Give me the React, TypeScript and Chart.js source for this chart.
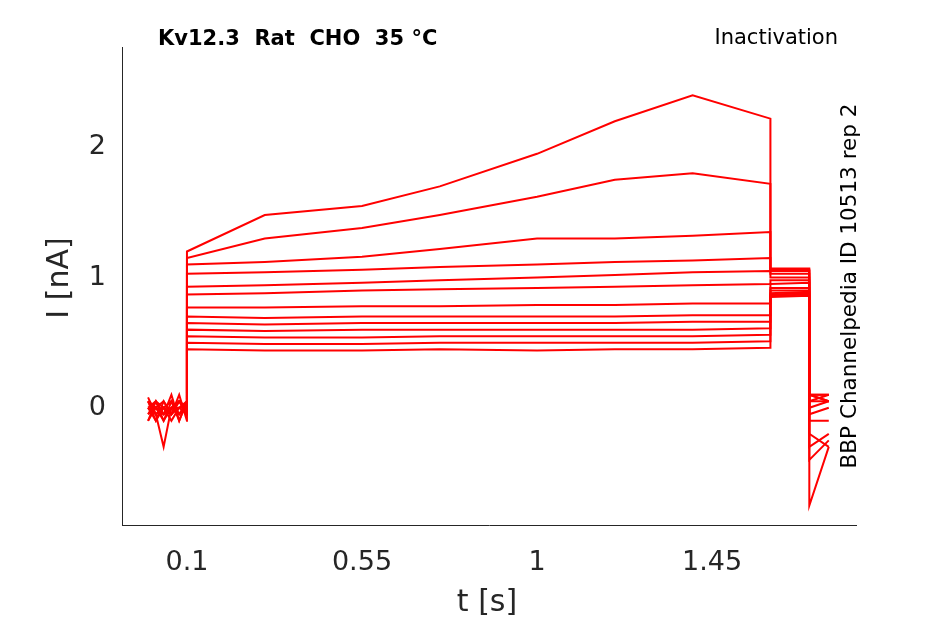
import React, { useEffect, useRef } from "react";
import Chart from "chart.js/auto";

// sample times (s); duplicated edges make the voltage steps vertical
const times = [0, 0.02, 0.04, 0.06, 0.08, 0.0999, 0.1, 0.3, 0.55, 0.75, 1.0, 1.2, 1.4, 1.5999, 1.6, 1.6999, 1.7, 1.75];

// current traces (nA), one per sweep
const sweeps: number[][] = [
  [0.05, -0.1, 0.0, -0.05, 0.05, 0.0, 0.45, 0.44, 0.44, 0.45, 0.44, 0.45, 0.45, 0.46, 0.85, 0.86, -0.75, -0.3],
  [-0.05, 0.0, -0.1, 0.05, -0.05, 0.0, 0.5, 0.49, 0.49, 0.5, 0.5, 0.5, 0.5, 0.51, 0.86, 0.87, -0.4, -0.25],
  [0.0, -0.05, -0.3, 0.0, 0.05, -0.05, 0.55, 0.54, 0.54, 0.55, 0.55, 0.55, 0.55, 0.56, 0.87, 0.88, -0.3, -0.2],
  [0.08, -0.05, 0.0, -0.1, 0.0, 0.05, 0.6, 0.59, 0.6, 0.6, 0.6, 0.6, 0.6, 0.61, 0.88, 0.89, -0.2, -0.3],
  [-0.1, 0.05, -0.05, 0.0, -0.05, 0.0, 0.65, 0.64, 0.65, 0.65, 0.65, 0.65, 0.66, 0.66, 0.9, 0.9, -0.1, -0.1],
  [0.0, -0.1, 0.05, -0.05, 0.1, -0.1, 0.7, 0.69, 0.7, 0.7, 0.7, 0.7, 0.71, 0.71, 0.92, 0.92, -0.05, 0.0],
  [0.05, 0.0, -0.05, 0.1, -0.1, 0.05, 0.77, 0.77, 0.78, 0.78, 0.79, 0.79, 0.8, 0.8, 0.95, 0.96, 0.0, 0.05],
  [-0.05, 0.05, 0.0, -0.05, 0.05, 0.0, 0.87, 0.88, 0.9, 0.91, 0.92, 0.93, 0.94, 0.95, 0.98, 0.98, 0.05, 0.05],
  [0.0, 0.05, -0.1, 0.0, 0.0, -0.05, 0.93, 0.94, 0.96, 0.98, 1.0, 1.02, 1.04, 1.05, 1.0, 1.0, 0.05, 0.1],
  [0.05, -0.05, 0.0, 0.05, -0.05, 0.05, 1.03, 1.04, 1.06, 1.08, 1.1, 1.12, 1.13, 1.15, 1.03, 1.03, 0.1, 0.05],
  [-0.1, 0.0, 0.05, -0.05, 0.0, 0.0, 1.1, 1.12, 1.16, 1.22, 1.3, 1.3, 1.32, 1.35, 1.05, 1.05, 0.1, 0.1],
  [0.0, -0.05, 0.0, 0.05, -0.1, 0.05, 1.15, 1.3, 1.38, 1.48, 1.62, 1.75, 1.8, 1.72, 1.06, 1.06, 0.1, 0.05],
  [0.05, 0.0, -0.05, 0.0, 0.05, -0.05, 1.2, 1.48, 1.55, 1.7, 1.95, 2.2, 2.4, 2.22, 1.07, 1.07, 0.1, 0.1],
];

const xTicks = [0.1, 0.55, 1, 1.45];
const yTicks = [0, 1, 2];

const INK = "#262626";

export default function App() {
  const ref = useRef<HTMLCanvasElement | null>(null);

  useEffect(() => {
    document.body.style.margin = "0";
    if (!ref.current) return;

    const labels = {
      id: "labels",
      afterDraw(chart: Chart) {
        const c = chart.ctx;
        c.save();
        c.fillStyle = "#000";
        c.textBaseline = "middle";
        c.font = "bold 21px 'DejaVu Sans'";
        c.textAlign = "left";
        c.fillText("Kv12.3  Rat  CHO  35 °C", 158, 40);
        c.font = "21px 'DejaVu Sans'";
        c.textAlign = "right";
        c.fillText("Inactivation", 838, 39);
        c.textAlign = "center";
        c.save();
        c.translate(850, 286);
        c.rotate(-Math.PI / 2);
        c.font = "21.5px 'DejaVu Sans'";
        c.fillText("BBP Channelpedia ID 10513 rep 2", 0, 0);
        c.restore();
        c.fillStyle = INK;
        c.font = "30px 'DejaVu Sans'";
        c.fillText("t [s]", 487, 603);
        c.translate(60, 278);
        c.rotate(-Math.PI / 2);
        c.fillText("I [nA]", 0, 0);
        c.restore();
      },
    };

    const chart = new Chart(ref.current, {
      type: "scatter",
      data: {
        datasets: sweeps.map((s) => ({
          data: s.map((v, i) => ({ x: times[i], y: v })),
          showLine: true,
          borderColor: "#ff0000",
          borderWidth: 2,
          pointRadius: 0,
        })),
      },
      options: {
        animation: false,
        responsive: false,
        layout: { padding: { top: 47, right: 89 } },
        plugins: { legend: { display: false }, tooltip: { enabled: false } },
        scales: {
          x: {
            type: "linear",
            min: -0.067,
            max: 1.82,
            grid: { display: false, drawTicks: false },
            border: { color: INK, width: 1 },
            afterBuildTicks: (a: any) => { a.ticks = xTicks.map((v) => ({ value: v })); },
            afterFit: (a: any) => { a.height = 99; },
            ticks: { color: INK, font: { size: 27, family: "'DejaVu Sans'" }, padding: 22, maxRotation: 0, callback: (v: any) => String(v) },
          },
          y: {
            min: -0.9,
            max: 2.77,
            grid: { display: false, drawTicks: false },
            border: { color: INK, width: 1 },
            afterBuildTicks: (a: any) => { a.ticks = yTicks.map((v) => ({ value: v })); },
            afterFit: (a: any) => { a.width = 122; },
            ticks: { color: INK, font: { size: 27, family: "'DejaVu Sans'" }, padding: 16 },
          },
        },
      },
      plugins: [labels],
    });
    return () => chart.destroy();
  }, []);

  return (
    <div style={{ width: 945, height: 624, background: "#fff" }}>
      <canvas ref={ref} width={945} height={624} />
    </div>
  );
}
